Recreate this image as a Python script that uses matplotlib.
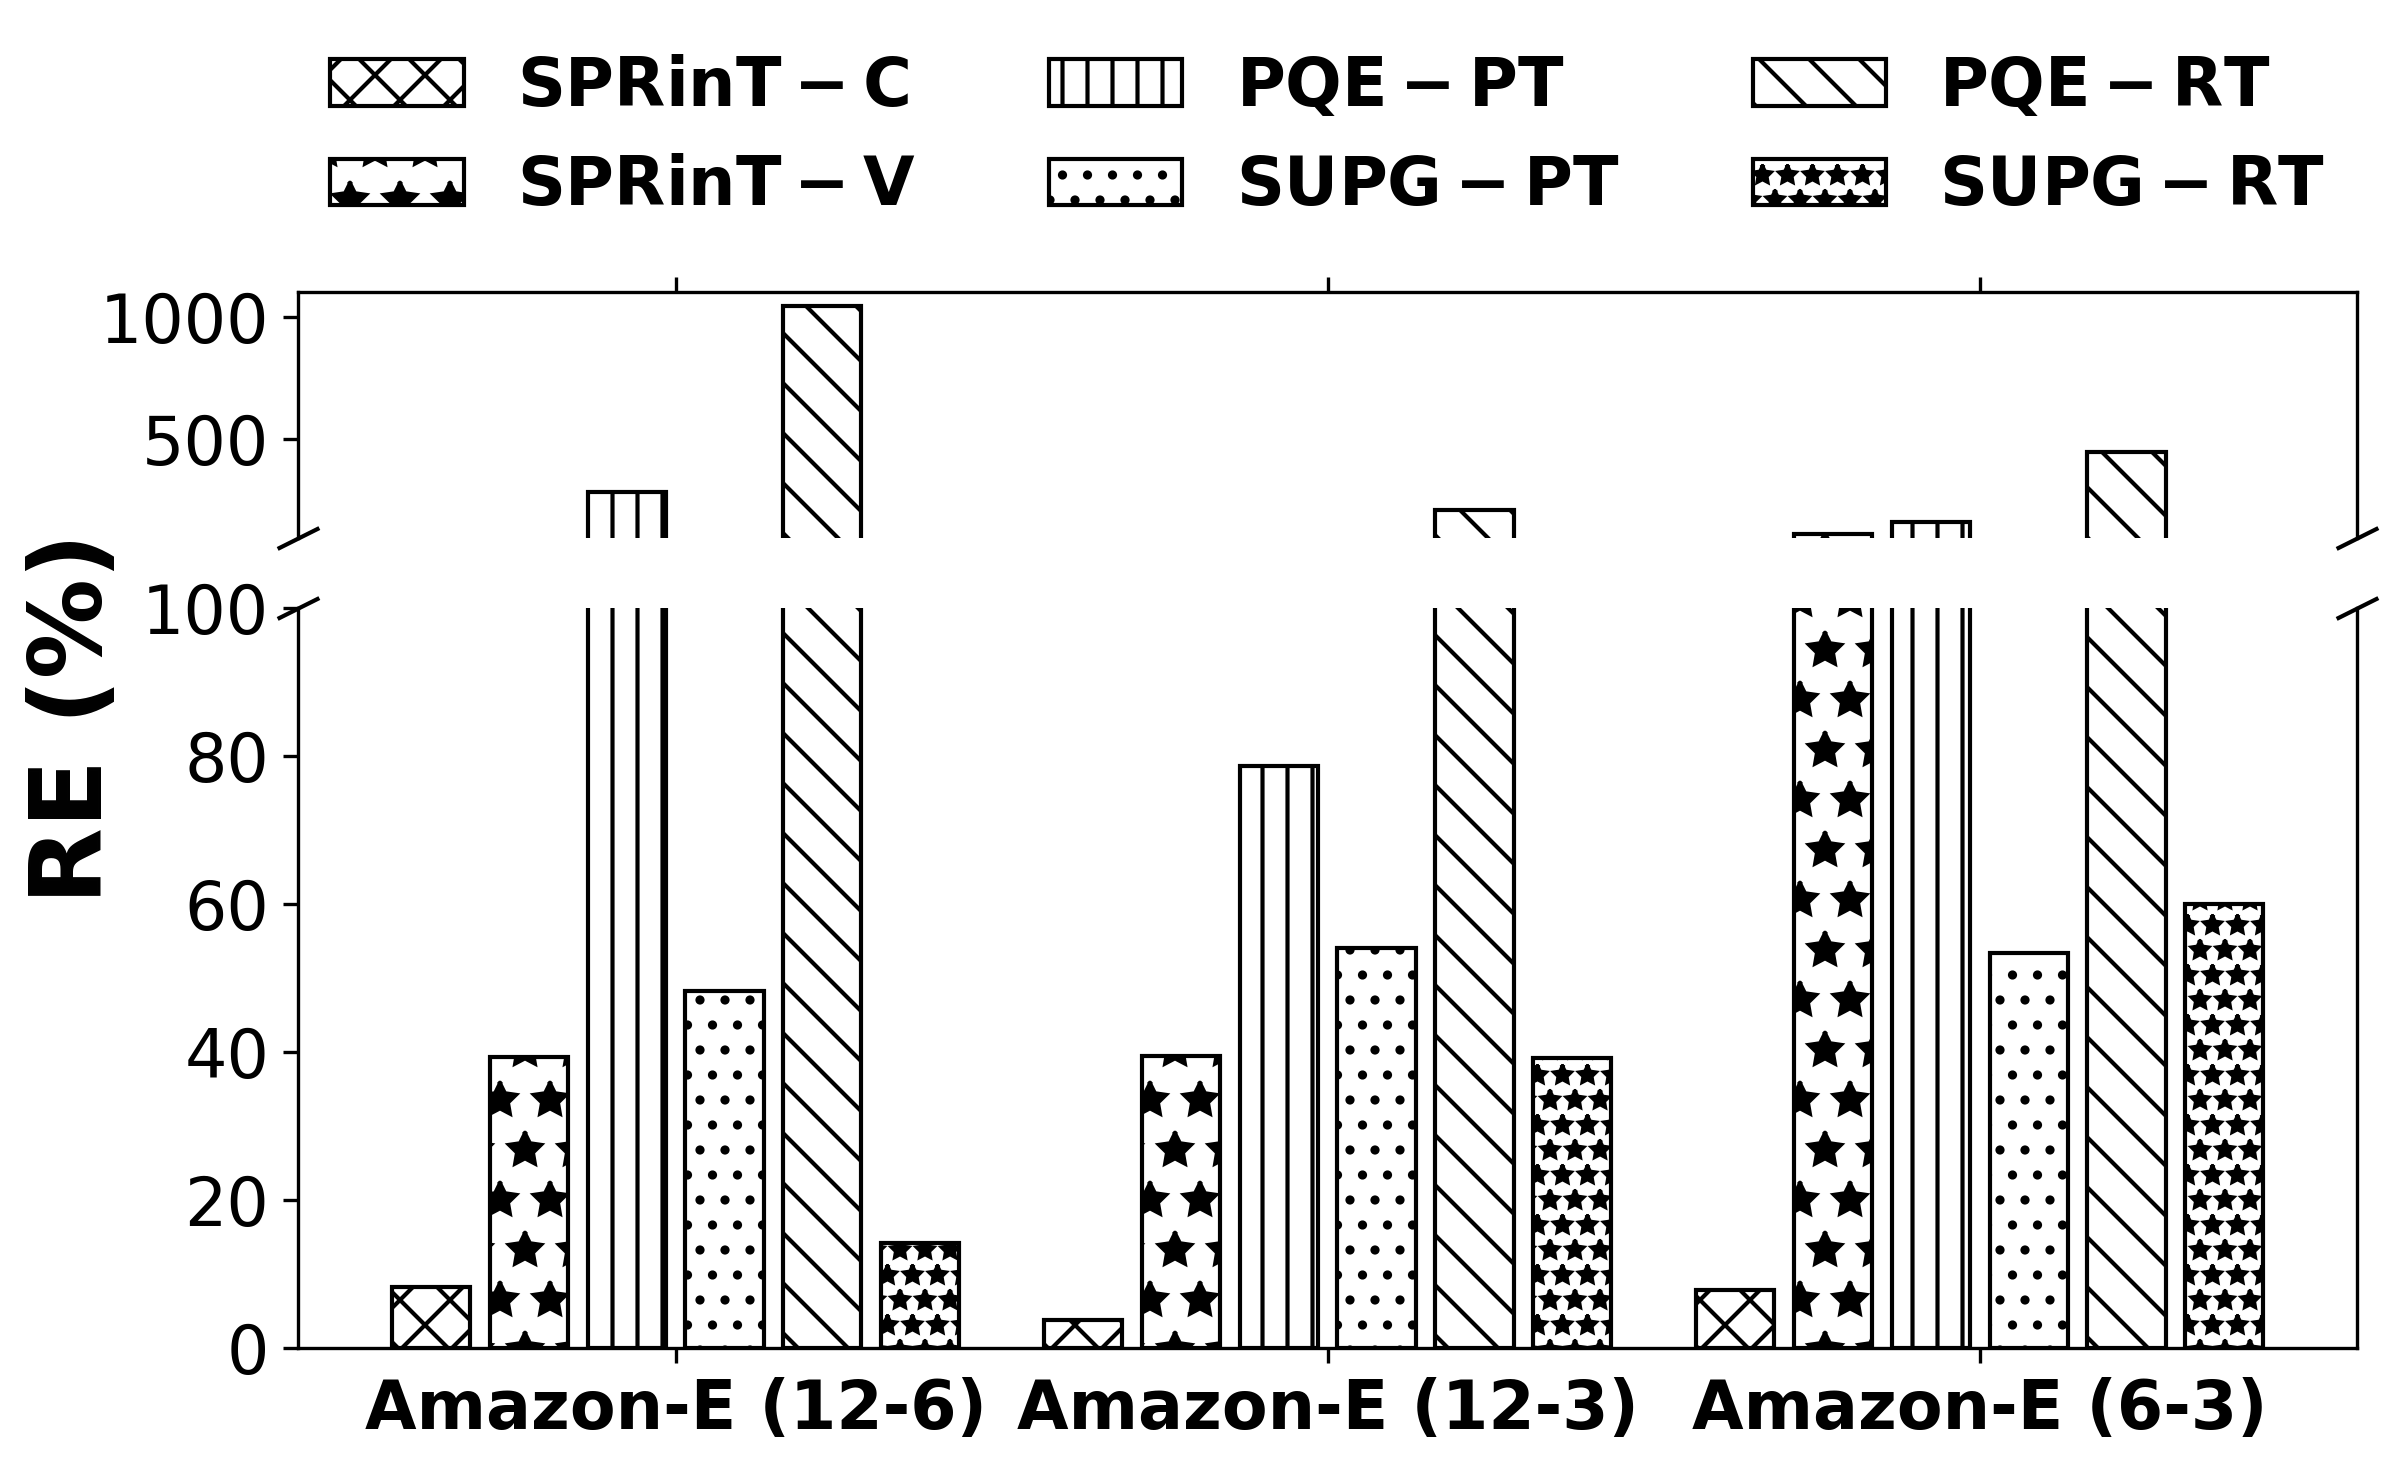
import matplotlib
matplotlib.use("Agg")
import matplotlib.pyplot as plt
import numpy as np

# ---- data ----
groups = ['Amazon-E (12-6)', 'Amazon-E (12-3)', 'Amazon-E (6-3)']
series_labels = [r'$\mathbf{SPRinT-C}$', r'$\mathbf{SPRinT-V}$', r'$\mathbf{PQE-PT}$',
                 r'$\mathbf{SUPG-PT}$', r'$\mathbf{PQE-RT}$', r'$\mathbf{SUPG-RT}$']
sprint_c = [8.3, 3.8, 7.9]
sprint_v = [39.3, 39.4, 113]
pqe_pt = [286, 78.7, 164]
supg_pt = [48.2, 54.0, 53.4]
pqe_rt = [1041, 212, 450]
supg_rt = [14.2, 39.2, 60.0]
hatches = ['xx', '*', '||', '..', '\\\\', '**']

series = [sprint_c, sprint_v, pqe_pt, supg_pt, pqe_rt, supg_rt]

W, H = 2407, 1471
fig = plt.figure(figsize=(W / 300, H / 300), dpi=300)
left = 298.3 / W
width = (2357 - 298.3) / W
ax_top = fig.add_axes([left, 1 - 537.5 / H, width, (537.5 - 292) / H])
ax_bot = fig.add_axes([left, 1 - 1348 / H, width, (1348 - 608) / H])

x = np.arange(len(groups))
bw = 0.12
step = 0.15
handles = []
for i, (vals, lab, h) in enumerate(zip(series, series_labels, hatches)):
    pos = x + (i - 2.5) * step
    for ax in (ax_top, ax_bot):
        b = ax.bar(pos, vals, bw, facecolor='white', edgecolor='black',
                   hatch=h, linewidth=1.0, label=lab)
    handles.append(b)

ax_top.set_ylim(100, 1100)
ax_bot.set_ylim(0, 100)
ax_top.set_yticks([500, 1000])
ax_bot.set_yticks([0, 20, 40, 60, 80, 100])
for ax in (ax_top, ax_bot):
    ax.set_xticks(x)
    ax.tick_params(axis='y', labelsize=16)
ax_bot.set_xticklabels(groups, fontsize=16, fontweight='bold')
ax_top.spines['bottom'].set_visible(False)
ax_bot.spines['top'].set_visible(False)
ax_top.xaxis.tick_top()
ax_top.tick_params(labeltop=False)
ax_bot.xaxis.tick_bottom()
ax_bot.set_xlim(ax_top.get_xlim())

d = 0.5
kw = dict(marker=[(-1, -d), (1, d)], markersize=10, linestyle='none',
          color='k', mec='k', mew=1, clip_on=False)
ax_top.plot([0, 1], [0, 0], transform=ax_top.transAxes, **kw)
ax_bot.plot([0, 1], [1, 1], transform=ax_bot.transAxes, **kw)

ax_top.legend(handles=handles, labels=series_labels, loc='lower center',
              bbox_to_anchor=(0.5, 1.052), ncol=3, frameon=False, fontsize=16)

fig.text(75 / W, 1 - 718 / H, 'RE (%)', rotation=90, fontsize=24,
         fontweight='bold', ha='center', va='center')

fig.savefig('out.png', dpi=300)
